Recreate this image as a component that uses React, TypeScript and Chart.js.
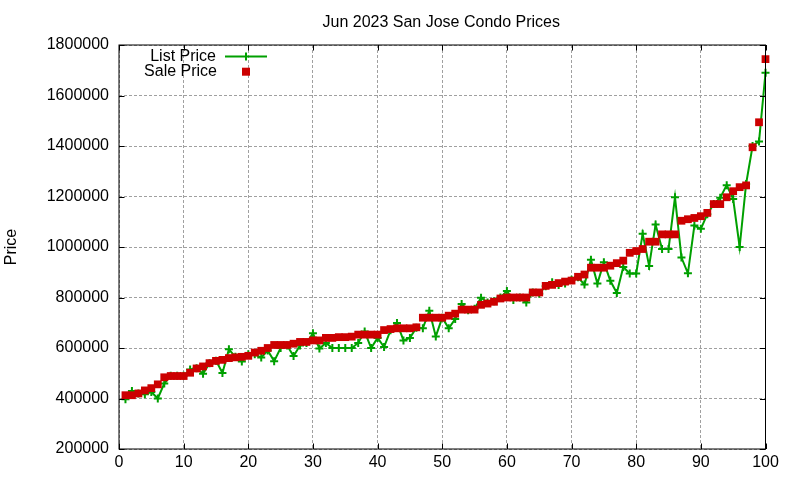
import React, { useEffect, useRef } from 'react';
import { Chart, registerables } from 'chart.js';

Chart.register(...registerables);

const chartTitle = 'Jun 2023 San Jose Condo Prices';
const yTitle = 'Price';
const seriesNames = ['List Price', 'Sale Price'];

const rank = [
  1, 2, 3, 4, 5, 6, 7, 8, 9, 10, 11, 12, 13, 14, 15, 16, 17, 18, 19, 20,
  21, 22, 23, 24, 25, 26, 27, 28, 29, 30, 31, 32, 33, 34, 35, 36, 37, 38, 39, 40,
  41, 42, 43, 44, 45, 46, 47, 48, 49, 50, 51, 52, 53, 54, 55, 56, 57, 58, 59, 60,
  61, 62, 63, 64, 65, 66, 67, 68, 69, 70, 71, 72, 73, 74, 75, 76, 77, 78, 79, 80,
  81, 82, 83, 84, 85, 86, 87, 88, 89, 90, 91, 92, 93, 94, 95, 96, 97, 98, 99, 100,
];

const listPrice = [
  397000, 430000, 420000, 417000, 426000, 400000, 459000, 490000, 490000, 490000,
  515000, 520000, 498000, 540000, 550000, 501000, 595000, 565000, 547000, 575000,
  575000, 562000, 590000, 548000, 600000, 610000, 568000, 610000, 620000, 658000,
  598000, 620000, 600000, 600000, 600000, 600000, 620000, 665000, 600000, 640000,
  604000, 670000, 699000, 630000, 640000, 680000, 678000, 748000, 646000, 720000,
  678000, 715000, 774000, 750000, 755000, 799000, 780000, 785000, 800000, 826000,
  790000, 800000, 780000, 820000, 815000, 845000, 860000, 850000, 855000, 870000,
  880000, 851000, 950000, 855000, 940000, 866000, 818000, 921000, 895000, 895000,
  1052000, 925000, 1089000, 992000, 992000, 1197000, 958000, 896000, 1085000, 1072000,
  1130000, 1170000, 1195000, 1245000, 1190000, 1000000, 1250000, 1400000, 1418000, 1690000,
];

const salePrice = [
  413000, 413000, 420000, 432000, 441000, 456000, 484000, 489000, 489000, 489000,
  502000, 519000, 527000, 540000, 549000, 553000, 560000, 563000, 565000, 569000,
  582000, 589000, 600000, 612000, 612000, 612000, 617000, 624000, 624000, 630000,
  630000, 640000, 640000, 643000, 643000, 645000, 653000, 653000, 653000, 653000,
  671000, 675000, 678000, 678000, 678000, 682000, 720000, 720000, 720000, 720000,
  728000, 736000, 752000, 752000, 752000, 771000, 776000, 783000, 796000, 800000,
  800000, 800000, 800000, 820000, 820000, 846000, 850000, 857000, 863000, 867000,
  882000, 891000, 918000, 918000, 918000, 926000, 936000, 946000, 977000, 984000,
  992000, 1021000, 1021000, 1050000, 1050000, 1050000, 1104000, 1110000, 1115000, 1122000,
  1135000, 1170000, 1170000, 1197000, 1221000, 1237000, 1244000, 1395000, 1494000, 1744000,
];

const GREEN = '#00a000';
const RED = '#cc0000';
const FONT = "'Liberation Sans', Arial, sans-serif";

// gnuplot-ish frame: box round the plot with inward tics, title over the plot, key in the corner
const gnuplotFrame = {
  id: 'gnuplotFrame',
  afterDraw(chart: Chart) {
    const { ctx, chartArea: a } = chart;
    const xs = chart.scales.x;
    const ys = chart.scales.y;
    const tic = 5.5;
    ctx.save();
    ctx.strokeStyle = '#000';
    ctx.lineWidth = 1;
    ctx.beginPath();
    xs.ticks.forEach((t) => {
      const px = Math.round(xs.getPixelForValue(t.value)) + 0.5;
      ctx.moveTo(px, a.bottom);
      ctx.lineTo(px, a.bottom - tic);
      ctx.moveTo(px, a.top);
      ctx.lineTo(px, a.top + tic);
    });
    ys.ticks.forEach((t) => {
      const py = Math.round(ys.getPixelForValue(t.value)) + 0.5;
      ctx.moveTo(a.left, py);
      ctx.lineTo(a.left + tic, py);
      ctx.moveTo(a.right, py);
      ctx.lineTo(a.right - tic, py);
    });
    ctx.stroke();
    ctx.strokeRect(a.left, a.top, a.right - a.left, a.bottom - a.top);

    ctx.fillStyle = '#000';
    ctx.font = `16px ${FONT}`;
    ctx.textBaseline = 'middle';
    ctx.textAlign = 'center';
    ctx.fillText(chartTitle, (a.left + a.right) / 2 - 1, 22.5);

    // key
    ctx.textAlign = 'right';
    ctx.fillText(seriesNames[0], 216, 56.5);
    ctx.fillText(seriesNames[1], 217, 72);
    ctx.strokeStyle = GREEN;
    ctx.lineWidth = 2;
    ctx.beginPath();
    ctx.moveTo(225, 56.5);
    ctx.lineTo(267, 56.5);
    ctx.moveTo(246, 52.5);
    ctx.lineTo(246, 60.5);
    ctx.stroke();
    ctx.fillStyle = RED;
    ctx.fillRect(242, 67.7, 8, 8);
    ctx.restore();
  },
};

const App = () => {
  const canvasRef = useRef<HTMLCanvasElement | null>(null);

  useEffect(() => {
    const ctx = canvasRef.current?.getContext('2d');
    if (!ctx) return;
    const chart = new Chart(ctx, {
      type: 'line',
      data: {
        datasets: [
          {
            label: seriesNames[0],
            data: rank.map((r, i) => ({ x: r, y: listPrice[i] })),
            borderColor: GREEN,
            backgroundColor: GREEN,
            borderWidth: 2,
            pointStyle: 'cross',
            pointRadius: 4,
            pointBorderWidth: 2,
            pointBorderColor: GREEN,
            tension: 0,
            clip: false,
            order: 2,
          },
          {
            label: seriesNames[1],
            data: rank.map((r, i) => ({ x: r, y: salePrice[i] })),
            showLine: false,
            pointStyle: 'rect',
            pointRadius: 5.5,
            pointBorderWidth: 0,
            pointBackgroundColor: RED,
            borderColor: RED,
            backgroundColor: RED,
            clip: false,
            order: 1,
          },
        ],
      },
      options: {
        animation: false,
        responsive: false,
        events: [],
        layout: { padding: { left: 0, top: 45, right: 34.5, bottom: 0 } },
        plugins: {
          legend: { display: false },
          title: { display: false },
          tooltip: { enabled: false },
        },
        scales: {
          x: {
            type: 'linear',
            min: 0,
            max: 100,
            afterFit: (scale) => {
              scale.height = 31;
            },
            ticks: {
              stepSize: 10,
              color: '#000',
              padding: 4,
              font: { family: FONT, size: 16 },
              maxRotation: 0,
            },
            grid: { color: '#a0a0a0', lineWidth: 1, drawTicks: false },
            border: { display: false, dash: [3, 2] },
          },
          y: {
            type: 'linear',
            min: 200000,
            max: 1800000,
            afterFit: (scale) => {
              scale.width = 119;
            },
            ticks: {
              stepSize: 200000,
              color: '#000',
              padding: 10,
              font: { family: FONT, size: 16 },
              callback: (v) => String(v),
            },
            grid: { color: '#a0a0a0', lineWidth: 1, drawTicks: false },
            border: { display: false, dash: [3, 2] },
            title: {
              display: true,
              text: yTitle,
              color: '#000',
              font: { family: FONT, size: 16 },
              padding: { top: 2.4, bottom: 0 },
            },
          },
        },
      },
      plugins: [gnuplotFrame],
    });
    return () => {
      chart.destroy();
    };
  }, []);

  return (
    <div style={{ position: 'fixed', left: 0, top: 0, width: 800, height: 480, background: '#fff' }}>
      <canvas ref={canvasRef} width={800} height={480} />
    </div>
  );
};

export default App;
